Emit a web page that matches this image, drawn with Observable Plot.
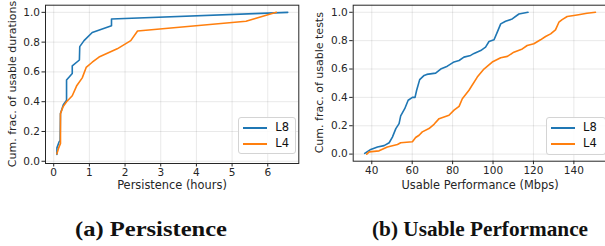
<!DOCTYPE html>
<html><head><meta charset="utf-8">
<script src="https://cdn.jsdelivr.net/npm/d3@7"></script>
<script src="https://cdn.jsdelivr.net/npm/@observablehq/plot@0.6"></script>
<style>
body{margin:0;overflow:hidden;background:#fff;}
#wrap{position:relative;width:605px;height:246px;overflow:hidden;background:#fff;}
#wrap > svg, #wrap > div{position:absolute;}
.legend{position:absolute;border:1px solid #d4d4d4;border-radius:3px;background:rgba(255,255,255,0.85);box-sizing:border-box;font-family:"DejaVu Sans";font-size:11.5px;color:#111;}
.legend .sw{position:absolute;height:2px;width:24px;}
.legend .lb{position:absolute;line-height:1;transform:translateY(-50%);}
</style></head><body><div id="wrap"></div>
<script>
// ---------- data (a) Persistence ----------
const seriesNames = ["L8", "L4"];
const seriesColors = ["#1f77b4", "#ff7f0e"];
const persistHoursL8 = [0.09,0.09,0.15,0.18,0.19,0.27,0.36,0.36,0.52,0.52,0.72,0.73,0.85,1.08,1.62,1.62,6.56];
const persistCdfL8   = [0.045,0.09,0.13,0.14,0.32,0.38,0.41,0.545,0.59,0.64,0.68,0.77,0.81,0.865,0.91,0.955,1.0];
const persistHoursL4 = [0.09,0.14,0.19,0.19,0.26,0.36,0.52,0.64,0.80,0.91,1.08,1.27,1.78,2.16,2.35,5.39,6.24];
const persistCdfL4   = [0.05,0.09,0.12,0.32,0.365,0.40,0.44,0.505,0.56,0.63,0.665,0.70,0.755,0.81,0.875,0.94,1.0];
const persistXTicks = [0,1,2,3,4,5,6];
// ---------- data (b) Usable Performance ----------
const perfMbpsL8 = [36.5,39.5,42.8,46.1,48.6,50.2,51.9,53.5,54.3,56.3,58.0,60.1,61.4,62.2,63.7,65.9,67.2,71.6,74.1,77.4,80.7,83.2,85.6,88.9,90.6,93.9,96.3,98.0,100.5,102.1,103.8,106.2,109.5,112.8,117.3];
const perfCdfL8  = [0.005,0.033,0.05,0.06,0.08,0.12,0.18,0.215,0.27,0.32,0.38,0.40,0.40,0.45,0.525,0.555,0.562,0.571,0.60,0.62,0.65,0.66,0.684,0.696,0.71,0.73,0.754,0.794,0.806,0.86,0.918,0.937,0.953,0.988,1.0];
const perfMbpsL4 = [37.5,38.7,43.6,47.7,52.7,54.3,60.1,61.7,63.4,65.0,68.3,70.8,73.3,78.2,80.7,83.2,84.8,88.1,92.2,95.5,99.6,103.8,107.1,110.3,114.5,116.9,120.2,123.5,126.0,128.5,130.9,132.6,134.2,136.7,141.6,146.5,150.7];
const perfCdfL4  = [0.0,0.016,0.023,0.05,0.068,0.08,0.087,0.117,0.133,0.157,0.18,0.21,0.25,0.274,0.31,0.337,0.39,0.45,0.543,0.60,0.649,0.68,0.689,0.719,0.742,0.766,0.778,0.806,0.829,0.848,0.876,0.93,0.948,0.97,0.981,0.993,1.0];
const perfXTicks = [40,60,80,100,120,140];
const cdfTicks = [0,0.2,0.4,0.6,0.8,1.0];

function rows(name, xs, ys){ return xs.map((x,i)=>({series:name, x, y:ys[i]})); }
const persistData = [...rows("L8", persistHoursL8, persistCdfL8), ...rows("L4", persistHoursL4, persistCdfL4)];
const perfData = [...rows("L8", perfMbpsL8, perfCdfL8), ...rows("L4", perfMbpsL4, perfCdfL4)];

function makePlot(o){
  return Plot.plot({
    width:o.width, height:o.height,
    marginLeft:o.ml, marginRight:o.mr, marginTop:o.mt, marginBottom:o.mb,
    style:{fontFamily:"DejaVu Sans", fontSize:"10.5px", color:"#262626", background:"transparent", overflow:"visible"},
    x:{domain:o.xDomain, ticks:o.xTicks, tickFormat:d3.format("d"), tickSize:3.5, tickPadding:2, grid:true, label:null},
    y:{domain:o.yDomain, ticks:cdfTicks, tickFormat:d3.format(".1f"), tickSize:3.5, tickPadding:2, grid:true, label:null},
    color:{domain:seriesNames, range:seriesColors},
    marks:[
      Plot.line(o.data, {x:"x", y:"y", z:"series", stroke:"series", strokeWidth:1.6}),
      Plot.frame({stroke:"#262626", strokeWidth:1})
    ]
  });
}

const wrap = document.getElementById("wrap");
const p1 = makePlot({data:persistData, width:302, height:200, ml:45, mr:3.7, mt:4.7, mb:37,
  xDomain:[-0.23,6.87], yDomain:[-0.015,1.048], xTicks:persistXTicks});
p1.style.left="0px"; p1.style.top="0px";
wrap.appendChild(p1);
const p2 = makePlot({data:perfData, width:306, height:200, ml:50.7, mr:1.5, mt:4.7, mb:39.3,
  xDomain:[30.8,156.4], yDomain:[-0.05,1.05], xTicks:perfXTicks});
p2.style.left="302px"; p2.style.top="0px";
wrap.appendChild(p2);

// overlay text: axis titles & captions
const ns="http://www.w3.org/2000/svg";
const ov=document.createElementNS(ns,"svg");
ov.setAttribute("width",605); ov.setAttribute("height",246);
ov.style.left="0px"; ov.style.top="0px";
function txt(s, x, y, attrs){
  const t=document.createElementNS(ns,"text");
  t.textContent=s; t.setAttribute("x",x); t.setAttribute("y",y);
  for(const k in attrs) t.setAttribute(k, attrs[k]);
  ov.appendChild(t); return t;
}
const lab={"font-family":"DejaVu Sans","font-size":"11.4px",fill:"#262626","text-anchor":"middle","dominant-baseline":"central"};
txt("Persistence (hours)", 172, 185, lab);
txt("Usable Performance (Mbps)", 480, 185, lab);
txt("Cum. frac. of usable durations", 0, 0, {...lab, "font-size":"11px", transform:"translate(12.7,84) rotate(-90)"});
txt("Cum. frac. of usable tests", 0, 0, {...lab, "font-size":"11px", transform:"translate(319.5,82.7) rotate(-90)"});
const cap={"font-family":"Liberation Serif","font-weight":"bold","font-size":"21px",fill:"#111","lengthAdjust":"spacingAndGlyphs"};
txt("(a) Persistence", 75, 236, {...cap, textLength:152});
txt("(b) Usable Performance", 372, 236, {...cap, textLength:216});
wrap.appendChild(ov);

function legend(left, top, w, h){
  const d=document.createElement("div"); d.className="legend";
  d.style.left=left+"px"; d.style.top=top+"px"; d.style.width=w+"px"; d.style.height=h+"px";
  seriesNames.forEach((n,i)=>{
    const sw=document.createElement("div"); sw.className="sw";
    sw.style.background=seriesColors[i]; sw.style.left="4px"; sw.style.top=(9+i*16.7)+"px";
    d.appendChild(sw);
    const lb=document.createElement("div"); lb.className="lb"; lb.textContent=n;
    lb.style.left="36px"; lb.style.top=(10+i*16.7)+"px";
    d.appendChild(lb);
  });
  wrap.appendChild(d);
}
legend(238.3, 116.7, 57.5, 37.6);
legend(546, 116.5, 60, 38);
</script></body></html>
